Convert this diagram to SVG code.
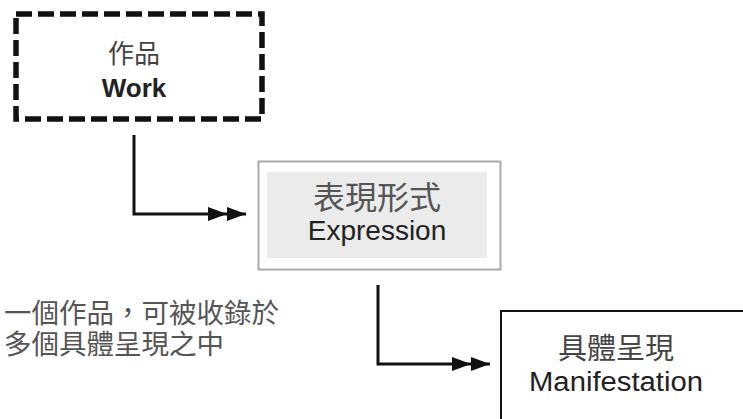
<svg xmlns="http://www.w3.org/2000/svg" width="743" height="419" viewBox="0 0 743 419">
<style>
.cjk{font-family:"Liberation Sans","Noto Sans CJK TC",sans-serif;}
.lat{font-family:"Liberation Sans",Arial,sans-serif;}
.conn{fill:none;stroke:#111;stroke-width:3;}
</style>
<defs>
<marker id="dbl" markerWidth="40" markerHeight="16" refX="38" refY="8" orient="auto" markerUnits="userSpaceOnUse">
<path d="M0,1 L19,8 L0,15 Z M19,1 L38,8 L19,15 Z" fill="#111"/>
</marker>
</defs>
<rect width="743" height="419" fill="#fff"/>
<g id="work">
<rect x="16" y="14" width="246" height="105" fill="#fff" stroke="#111" stroke-width="5.5" stroke-dasharray="16,6"/>
<text x="134" y="63" text-anchor="middle" class="cjk" font-size="26" fill="#444">作品</text>
<text x="134" y="97" text-anchor="middle" class="lat" font-size="26" font-weight="bold" fill="#222">Work</text>
</g>
<g id="expression">
<rect x="258.5" y="161.5" width="242" height="108" fill="#fff" stroke="#aaa" stroke-width="2"/>
<rect x="267" y="172" width="220" height="86" fill="#ebebeb"/>
<text x="377" y="209" text-anchor="middle" class="cjk" font-size="32" fill="#555">表現形式</text>
<text x="377" y="240" text-anchor="middle" class="lat" font-size="28" fill="#222">Expression</text>
</g>
<g id="manifestation">
<rect x="501" y="311" width="250" height="120" fill="#fff" stroke="#111" stroke-width="2"/>
<text x="616" y="359" text-anchor="middle" class="cjk" font-size="29" fill="#444">具體呈現</text>
<text x="616" y="391" text-anchor="middle" class="lat" font-size="27" fill="#222" textLength="174" lengthAdjust="spacingAndGlyphs">Manifestation</text>
</g>
<g id="note">
<text x="4" y="323" class="cjk" font-size="27.5" fill="#555">一個作品，可被收錄於</text>
<text x="4" y="354" class="cjk" font-size="27.5" fill="#555">多個具體呈現之中</text>
</g>
<g id="connectors">
<path class="conn" d="M134,135 V214 H246" marker-end="url(#dbl)"/>
<path class="conn" d="M378,285 V364 H490" marker-end="url(#dbl)"/>
</g>
</svg>
